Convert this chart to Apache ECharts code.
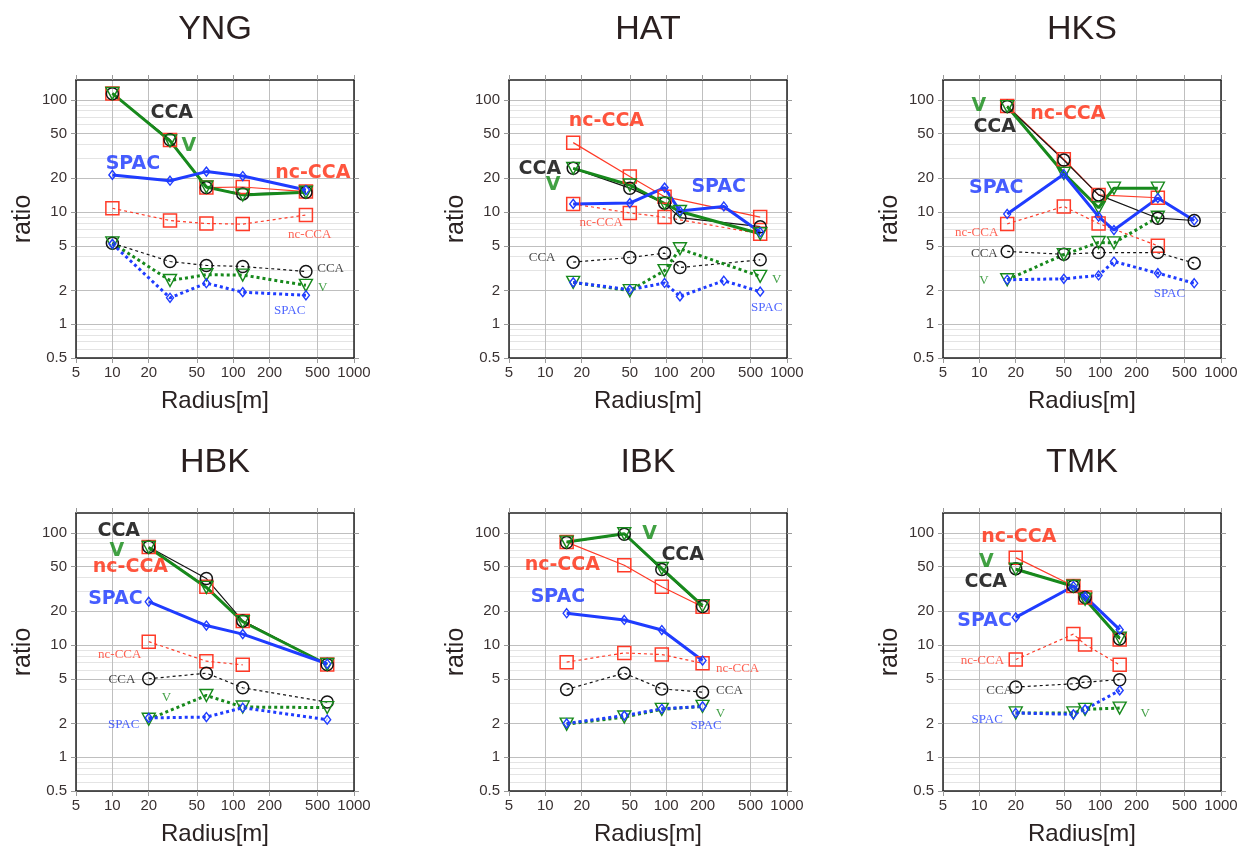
<!DOCTYPE html>
<html><head><meta charset="utf-8">
<script src="https://cdn.jsdelivr.net/npm/echarts@6/dist/echarts.min.js"></script>
<style>html,body{margin:0;padding:0;background:#fff}#c{width:1240px;height:849px}</style>
</head><body><div id="c"></div>
<script>
// ---------- tick labels ----------
const X_TICKS = [5, 10, 20, 50, 100, 200, 500, 1000];
const Y_TICKS = [0.5, 1, 2, 5, 10, 20, 50, 100];
const Y_MINOR = [0.6, 0.7, 0.8, 0.9, 3, 4, 6, 7, 8, 9, 30, 40, 60, 70, 80, 90];
const STATIONS = ['YNG', 'HAT', 'HKS', 'HBK', 'IBK', 'TMK'];

// ---------- data (radius [m] ; ratio) ----------
const YNG_R = [10, 30, 60, 120, 400];
const YNG_CCA = [113, 44, 16.5, 14.5, 15];
const YNG_NCCCA = [114, 43.8, 16.5, 16.7, 15.2];
const YNG_V = [114, 43, 16.7, 14.2, 15.0];
const YNG_SPAC = [21.4, 19.0, 22.9, 20.9, 15.7];
const YNG_CCA_D = [5.27, 3.62, 3.34, 3.27, 2.95];
const YNG_NCCCA_D = [10.8, 8.4, 7.9, 7.8, 9.4];
const YNG_V_D = [5.3, 2.45, 2.76, 2.74, 2.22];
const YNG_SPAC_D = [5.2, 1.72, 2.32, 1.93, 1.81];

const HAT_R = [17, 50, 97, 130, 300, 600];
const HAT_CCA = [24.5, 16.3, 12.0, 8.9, null, 7.4];
const HAT_NCCCA = [41.5, 20.7, 13.7, null, null, 9.0];
const HAT_V = [24.5, 17.4, 11.9, 10.1, null, 6.4];
const HAT_SPAC = [11.8, 12.0, 16.5, 10.2, 11.2, 6.6];
const HAT_CCA_D = [3.57, 3.93, 4.3, 3.2, null, 3.75];
const HAT_NCCCA_D = [11.8, 9.8, 9.0, null, null, 6.4];
const HAT_V_D = [2.36, 1.99, 3.0, 4.7, null, 2.67];
const HAT_SPAC_D = [2.36, 2.03, 2.33, 1.77, 2.44, 1.95];

const HKS_R = [17, 50, 97, 130, 300, 600];
const HKS_CCA = [87, 29, 14.2, null, 8.8, 8.4];
const HKS_NCCCA = [88, 29.5, 14.2, null, 13.4, null];
const HKS_V = [87, 22.1, 10.9, 16.3, 16.3, null];
const HKS_SPAC = [9.6, 21.7, 9.1, 6.9, 13.3, 8.4];
const HKS_CCA_D = [4.45, 4.2, 4.35, null, 4.35, 3.5];
const HKS_NCCCA_D = [7.83, 11.2, 7.9, null, 5.0, null];
const HKS_V_D = [2.49, 4.17, 5.35, 5.3, 8.98, null];
const HKS_SPAC_D = [2.49, 2.54, 2.72, 3.62, 2.85, 2.32];

const HBK_R = [20, 60, 120, 600];
const HBK_CCA = [74.6, 39.1, 16.4, 6.7];
const HBK_NCCCA = [74.6, 33, 16.4, 6.7];
const HBK_V = [74, 32.6, 16.1, 6.7];
const HBK_SPAC = [24.3, 14.9, 12.5, 6.8];
const HBK_CCA_D = [5.0, 5.61, 4.16, 3.1];
const HBK_NCCCA_D = [10.7, 7.17, 6.65, null];
const HBK_V_D = [2.18, 3.55, 2.8, 2.77];
const HBK_SPAC_D = [2.24, 2.28, 2.76, 2.16];

const IBK_R = [15, 45, 92, 200];
const IBK_CCA = [82, 97, 47, 22];
const IBK_NCCCA = [82.6, 51.3, 33, 21.9];
const IBK_V = [82.6, 98, 48, 22.4];
const IBK_SPAC = [19.2, 16.7, 13.6, 7.27];
const IBK_CCA_D = [4.02, 5.61, 4.06, 3.8];
const IBK_NCCCA_D = [7.03, 8.5, 8.22, 6.88];
const IBK_V_D = [1.97, 2.28, 2.67, 2.84];
const IBK_SPAC_D = [2.0, 2.35, 2.7, 2.84];

const TMK_R = [20, 60, 75, 145];
const TMK_CCA = [47.9, 33.4, 26.5, 11.3];
const TMK_NCCCA = [60, 33.6, 26.5, 11.2];
const TMK_V = [47.3, 33.4, 25.6, 11.5];
const TMK_SPAC = [17.6, 33.4, 27, 13.7];
const TMK_CCA_D = [4.22, 4.51, 4.67, 4.9];
const TMK_NCCCA_D = [7.42, 12.5, 10.1, 6.65];
const TMK_V_D = [2.48, 2.48, 2.67, 2.74];
const TMK_SPAC_D = [2.48, 2.41, 2.67, 3.94];

// annotation texts: [text, radius, ratio, kind]
const YNG_LABELS = [['CCA',31,76,'big'],['V',43,39,'big'],['SPAC',14.8,26.6,'big'],['nc-CCA',456,22,'big'],
  ['nc-CCA',430,6.3,'small'],['CCA',640,3.1,'small'],['V',550,2.1,'small'],['SPAC',294,1.31,'small']];
const HAT_LABELS = [['nc-CCA',32,65,'big'],['CCA',9.0,24,'big'],['V',11.6,17.2,'big'],['SPAC',272,16.8,'big'],
  ['nc-CCA',29,8.1,'small'],['CCA',9.4,3.9,'small'],['V',820,2.52,'small'],['SPAC',680,1.42,'small']];
const HKS_LABELS = [['V',9.9,88,'big'],['CCA',13.4,57,'big'],['nc-CCA',54,75,'big'],['SPAC',13.8,16.5,'big'],
  ['nc-CCA',9.5,6.5,'small'],['CCA',11,4.24,'small'],['V',10.9,2.45,'small'],['SPAC',374,1.87,'small']];
const HBK_LABELS = [['CCA',11.3,103,'big'],['V',10.9,69,'big'],['nc-CCA',14.1,49,'big'],['SPAC',10.6,25.6,'big'],
  ['nc-CCA',11.5,8.2,'small'],['CCA',12,4.9,'small'],['V',28,3.37,'small'],['SPAC',12.4,1.97,'small']];
const IBK_LABELS = [['V',73,97,'big'],['CCA',137,63,'big'],['nc-CCA',13.8,52,'big'],['SPAC',12.7,26.5,'big'],
  ['nc-CCA',390,6.2,'small'],['CCA',334,3.94,'small'],['V',281,2.44,'small'],['SPAC',214,1.9,'small']];
const TMK_LABELS = [['nc-CCA',21.2,92,'big'],['V',11.4,55,'big'],['CCA',11.3,36,'big'],['SPAC',11.05,16.4,'big'],
  ['nc-CCA',10.6,7.27,'small'],['CCA',14.7,3.94,'small'],['V',236,2.44,'small'],['SPAC',11.6,2.18,'small']];

const PANELS = [
  {name:'YNG', r:YNG_R, cca:YNG_CCA, nc:YNG_NCCCA, v:YNG_V, spac:YNG_SPAC, ccaD:YNG_CCA_D, ncD:YNG_NCCCA_D, vD:YNG_V_D, spacD:YNG_SPAC_D, labels:YNG_LABELS},
  {name:'HAT', r:HAT_R, cca:HAT_CCA, nc:HAT_NCCCA, v:HAT_V, spac:HAT_SPAC, ccaD:HAT_CCA_D, ncD:HAT_NCCCA_D, vD:HAT_V_D, spacD:HAT_SPAC_D, labels:HAT_LABELS},
  {name:'HKS', r:HKS_R, cca:HKS_CCA, nc:HKS_NCCCA, v:HKS_V, spac:HKS_SPAC, ccaD:HKS_CCA_D, ncD:HKS_NCCCA_D, vD:HKS_V_D, spacD:HKS_SPAC_D, labels:HKS_LABELS},
  {name:'HBK', r:HBK_R, cca:HBK_CCA, nc:HBK_NCCCA, v:HBK_V, spac:HBK_SPAC, ccaD:HBK_CCA_D, ncD:HBK_NCCCA_D, vD:HBK_V_D, spacD:HBK_SPAC_D, labels:HBK_LABELS},
  {name:'IBK', r:IBK_R, cca:IBK_CCA, nc:IBK_NCCCA, v:IBK_V, spac:IBK_SPAC, ccaD:IBK_CCA_D, ncD:IBK_NCCCA_D, vD:IBK_V_D, spacD:IBK_SPAC_D, labels:IBK_LABELS},
  {name:'TMK', r:TMK_R, cca:TMK_CCA, nc:TMK_NCCCA, v:TMK_V, spac:TMK_SPAC, ccaD:TMK_CCA_D, ncD:TMK_NCCCA_D, vD:TMK_V_D, spacD:TMK_SPAC_D, labels:TMK_LABELS}
];

// ---------- styling ----------
const COL = {'CCA':'#141414', 'nc-CCA':'#ff3b28', 'V':'#17891c', 'SPAC':'#1f3cff'};
const LBL_COL = {'CCA':'#000000', 'nc-CCA':'#ff2a0e', 'V':'#118a14', 'SPAC':'#1834ff'};
const TXT = '#3a3232';
const FONT = 'Liberation Sans, Arial, sans-serif';
const BOLD_FONT = 'DejaVu Sans, Liberation Sans, sans-serif';
const LEFTS = [76, 509, 943];
const TOPS = [80, 513];
const W = 278, H = 278;

const fmt = v => String(+Number(v).toPrecision(4));

const grids = [], xAxes = [], yAxes = [], series = [], graphics = [];

function pairs(r, vals) {
  const out = [];
  r.forEach((x, k) => { if (vals[k] != null) out.push([x, vals[k]]); });
  return out;
}

function lineSeries(p, gi, key, vals, dotted) {
  const c = COL[key];
  const thick = (key === 'V' || key === 'SPAC');
  let symbol = 'circle', size = 12, rot = 0;
  if (key === 'nc-CCA') { symbol = 'rect'; size = 13; }
  if (key === 'V') { symbol = 'triangle'; size = [13, 12]; rot = 180; }
  if (key === 'SPAC') { symbol = 'diamond'; size = [7, 9]; }
  return {
    type: 'line', name: key + (dotted ? ' (dotted)' : ''),
    xAxisIndex: 2 * gi, yAxisIndex: 3 * gi,
    data: pairs(p.r, vals), connectNulls: true,
    symbol, symbolSize: size, symbolRotate: rot, showSymbol: true,
    itemStyle: {color: 'rgba(255,255,255,0)', borderColor: c, borderWidth: thick ? 1.4 : 1.5},
    lineStyle: {color: c, width: thick ? 3 : 1.2, type: dotted ? [3, 3] : 'solid'},
    silent: true, animation: false, emphasis: {disabled: true}
  };
}

PANELS.forEach((p, gi) => {
  const left = LEFTS[gi % 3], top = TOPS[Math.floor(gi / 3)];
  grids.push({left, top, width: W, height: H, outerBoundsMode: 'none', containLabel: false});
  const axLine = {show: true, onZero: false, lineStyle: {color: '#222', width: 1.5}};
  const tick = (vals) => ({show: true, customValues: vals, length: 5, inside: false, lineStyle: {color: '#9a9a9a', width: 1}});
  xAxes.push({
    type: 'log', logBase: 10, gridIndex: gi, position: 'bottom', min: 5, max: 1000,
    axisLine: axLine, axisTick: tick(X_TICKS),
    axisLabel: {show: true, customValues: X_TICKS, formatter: fmt, color: TXT, fontSize: 15, fontFamily: FONT, margin: 7, hideOverlap: false},
    splitLine: {show: true, lineStyle: {color: '#bfbfbf', width: 1}},
    minorTick: {show: false}, minorSplitLine: {show: false},
    name: 'Radius[m]', nameLocation: 'middle', nameGap: 31,
    nameTextStyle: {fontSize: 24, color: '#2a2222', fontFamily: FONT}
  });
  xAxes.push({
    type: 'log', logBase: 10, gridIndex: gi, position: 'top', min: 5, max: 1000,
    axisLine: axLine, axisTick: tick(X_TICKS), axisLabel: {show: false},
    splitLine: {show: false}, minorTick: {show: false}
  });
  yAxes.push({
    type: 'log', logBase: 10, gridIndex: gi, position: 'left', min: 0.5, max: 150,
    axisLine: axLine, axisTick: tick(Y_TICKS),
    axisLabel: {show: true, customValues: Y_TICKS, formatter: fmt, color: TXT, fontSize: 15, fontFamily: FONT, margin: 9, hideOverlap: false},
    splitLine: {show: true, lineStyle: {color: '#bfbfbf', width: 1}},
    minorTick: {show: false}, minorSplitLine: {show: false},
    name: 'ratio', nameLocation: 'middle', nameGap: 40, nameRotate: 90,
    nameTextStyle: {fontSize: 25, color: '#2a2222', fontFamily: FONT}
  });
  yAxes.push({
    type: 'log', logBase: 10, gridIndex: gi, position: 'right', min: 0.5, max: 150,
    axisLine: axLine, axisTick: tick(Y_TICKS), axisLabel: {show: false},
    splitLine: {show: false}, minorTick: {show: false}
  });
  yAxes.push({
    type: 'log', logBase: 10, gridIndex: gi, position: 'left', offset: 0, min: 0.5, max: 150,
    axisLine: {show: false}, axisTick: {show: false, customValues: Y_MINOR},
    axisLabel: {show: false, customValues: Y_MINOR},
    splitLine: {show: true, lineStyle: {color: '#e4e4e4', width: 1}}, minorTick: {show: false}
  });

  // dotted first, then solid
  series.push(lineSeries(p, gi, 'nc-CCA', p.ncD, true));
  series.push(lineSeries(p, gi, 'CCA', p.ccaD, true));
  series.push(lineSeries(p, gi, 'V', p.vD, true));
  series.push(lineSeries(p, gi, 'SPAC', p.spacD, true));
  series.push(lineSeries(p, gi, 'nc-CCA', p.nc, false));
  series.push(lineSeries(p, gi, 'CCA', p.cca, false));
  series.push(lineSeries(p, gi, 'V', p.v, false));
  series.push(lineSeries(p, gi, 'SPAC', p.spac, false));

  series.push({
    type: 'scatter', xAxisIndex: 2 * gi, yAxisIndex: 3 * gi, symbolSize: 0,
    silent: true, animation: false, clip: false, z: 5,
    data: p.labels.map(l => ({
      name: l[0], value: [l[1], l[2]],
      label: l[3] === 'big'
        ? {show: true, position: 'inside', formatter: '{b}', color: LBL_COL[l[0]], fontSize: 19, fontWeight: 'bold',
           fontFamily: BOLD_FONT}
        : {show: true, position: 'inside', formatter: '{b}', color: COL[l[0]], fontSize: 13,
           fontFamily: 'Liberation Serif, Times New Roman, serif'}
    }))
  });

  graphics.push({
    type: 'text', x: left + W / 2, y: top - 50,
    style: {text: p.name, fill: '#2a1f1f', font: '34px ' + FONT, align: 'center', verticalAlign: 'middle'}
  });
});

const chart = echarts.init(document.getElementById('c'), null, {renderer: 'canvas'});
chart.setOption({
  backgroundColor: '#ffffff',
  animation: false,
  grid: grids, xAxis: xAxes, yAxis: yAxes, series,
  graphic: graphics,
  tooltip: {show: false}, legend: {show: false}
});
</script></body></html>
